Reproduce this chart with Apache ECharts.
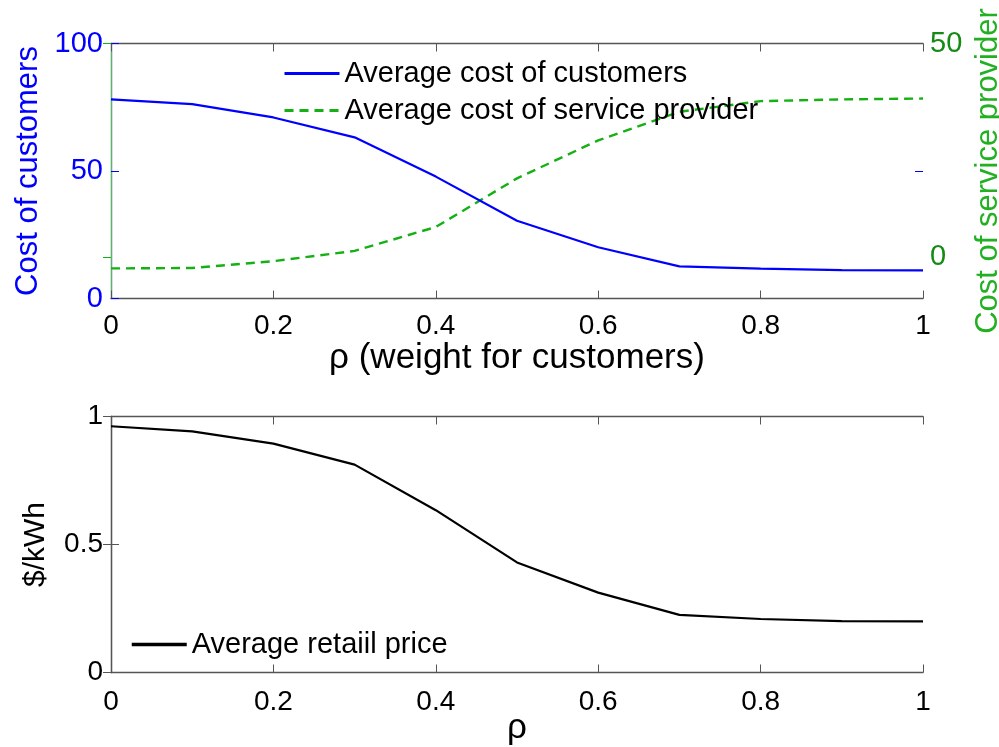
<!DOCTYPE html>
<html>
<head>
<meta charset="utf-8">
<script src="https://cdn.jsdelivr.net/npm/echarts@6/dist/echarts.min.js"></script>
<style>
  html, body { margin: 0; padding: 0; background: #fff; }
  #chart { width: 999px; height: 747px; }
</style>
</head>
<body>
<div id="chart"></div>
<script>
// weight for customers (rho)
const rho = [0, 0.1, 0.2, 0.3, 0.4, 0.5, 0.6, 0.7, 0.8, 0.9, 1.0];
// average cost of customers (left axis, top panel)
const customerCost = [78.1, 76.2, 71.0, 63.2, 47.8, 30.5, 20.1, 12.6, 11.7, 11.1, 11.0];
// average cost of service provider (right axis, top panel)
const providerCost = [-2.7, -2.6, -1.0, 1.4, 7.0, 18.4, 27.3, 34.0, 36.5, 36.9, 37.1];
// average retail price in $/kWh (bottom panel)
const retailPrice = [0.962, 0.942, 0.894, 0.812, 0.634, 0.430, 0.312, 0.225, 0.209, 0.201, 0.200];

const xTicks = [0, 0.2, 0.4, 0.6, 0.8, 1];
const customerTicks = [0, 50, 100];
const providerTicks = [0, 50];
const priceTicks = [0, 0.5, 1];

const FONT = "'Liberation Sans', Arial, Helvetica, sans-serif";
const BOX = '#555555';
const BLUE = '#0000ff';
const GREEN = '#14b014';
const GREEN_DARK = '#158a15';

const pairs = (xs, ys) => xs.map((x, i) => [x, ys[i]]);
const fmt = v => String(+v.toFixed(2));

function xAxisBottom(gridIndex, name, nameGap, nameSize, labelMargin) {
  return {
    type: 'value', gridIndex, position: 'bottom', min: 0, max: 1,
    axisLine: { show: true, onZero: false, lineStyle: { color: BOX, width: 1.3 } },
    axisTick: { show: true, inside: true, length: 8, customValues: xTicks, lineStyle: { color: BOX } },
    axisLabel: { show: true, customValues: xTicks, formatter: fmt, margin: labelMargin,
      color: '#000', fontSize: 28, fontFamily: FONT },
    splitLine: { show: false },
    name, nameLocation: 'middle', nameGap, nameMoveOverlap: false,
    nameTextStyle: { color: '#000', fontSize: nameSize, fontFamily: FONT }
  };
}
function xAxisTop(gridIndex) {
  return {
    type: 'value', gridIndex, position: 'top', min: 0, max: 1,
    axisLine: { show: true, onZero: false, lineStyle: { color: BOX, width: 1.3 } },
    axisTick: { show: true, inside: true, length: 8, customValues: xTicks, lineStyle: { color: BOX } },
    axisLabel: { show: false },
    splitLine: { show: false }
  };
}

// legend swatches show only the line, no marker
const hiddenMarker = { color: 'rgba(0,0,0,0)', borderWidth: 0, opacity: 0 };

const option = {
  animation: false,
  backgroundColor: '#fff',
  grid: [
    { left: 111, right: 76, top: 43.5, height: 255, containLabel: false, outerBoundsMode: 'none' },
    { left: 111, right: 76, top: 416.5, height: 256, containLabel: false, outerBoundsMode: 'none' }
  ],
  legend: [
    {
      data: ['Average cost of customers', 'Average cost of service provider'],
      orient: 'vertical', left: 283, top: 59, padding: 0,
      itemWidth: 55, itemHeight: 29, itemGap: 8,
      itemStyle: hiddenMarker,
      lineStyle: { width: 3 },
      textStyle: { color: '#000', fontSize: 29, fontFamily: FONT, lineHeight: 29 },
      selectedMode: false
    },
    {
      data: ['Average retaiil price'],
      orient: 'vertical', left: 130, top: 630, padding: 0,
      itemWidth: 55, itemHeight: 29,
      itemStyle: hiddenMarker,
      lineStyle: { width: 3.5 },
      textStyle: { color: '#000', fontSize: 29, fontFamily: FONT, lineHeight: 29 },
      selectedMode: false
    }
  ],
  xAxis: [
    xAxisBottom(0, 'ρ (weight for customers)', 42, 35, 14),
    xAxisTop(0),
    xAxisBottom(1, 'ρ', 38, 35, 16),
    xAxisTop(1)
  ],
  yAxis: [
    {
      type: 'value', gridIndex: 0, position: 'left', min: 0, max: 100,
      axisLine: { show: true, lineStyle: { color: '#6f6fff', width: 1.3 } },
      axisTick: { show: true, inside: true, length: 8, customValues: customerTicks, lineStyle: { color: BLUE } },
      axisLabel: { customValues: customerTicks, margin: 8, color: BLUE, fontSize: 29, fontFamily: FONT },
      splitLine: { show: false },
      name: 'Cost of customers', nameLocation: 'middle', nameGap: 67, nameRotate: 90,
      nameTextStyle: { color: BLUE, fontSize: 31, fontFamily: FONT }
    },
    {
      type: 'value', gridIndex: 0, position: 'right', min: -9.75, max: 50,
      axisLine: { show: true, lineStyle: { color: '#5cb85c', width: 1.3 } },
      axisTick: { show: true, inside: true, length: 8, customValues: providerTicks, lineStyle: { color: GREEN } },
      axisLabel: { customValues: providerTicks, margin: 7, color: GREEN_DARK, fontSize: 29, fontFamily: FONT },
      splitLine: { show: false },
      name: 'Cost of service provider', nameLocation: 'middle', nameGap: 46, nameRotate: 90,
      nameTextStyle: { color: '#22b022', fontSize: 31, fontFamily: FONT }
    },
    {
      // mirrored customer-axis tick on the right edge
      type: 'value', gridIndex: 0, position: 'right', min: 0, max: 100,
      axisLine: { show: false },
      axisTick: { show: true, inside: true, length: 8, customValues: [50], lineStyle: { color: BLUE } },
      axisLabel: { show: false },
      splitLine: { show: false }
    },
    {
      type: 'value', gridIndex: 1, position: 'left', min: 0, max: 1,
      axisLine: { show: true, lineStyle: { color: BOX, width: 1.3 } },
      axisTick: { show: true, inside: true, length: 8, customValues: priceTicks, lineStyle: { color: BOX } },
      axisLabel: { customValues: priceTicks, formatter: fmt, margin: 8, color: '#000', fontSize: 28, fontFamily: FONT },
      splitLine: { show: false },
      name: '$/kWh', nameLocation: 'middle', nameGap: 60, nameRotate: 90,
      nameTextStyle: { color: '#000', fontSize: 30, fontFamily: FONT }
    },
    {
      type: 'value', gridIndex: 1, position: 'right', min: 0, max: 1,
      axisLine: { show: true, lineStyle: { color: BOX, width: 1.3 } },
      axisTick: { show: true, inside: true, length: 8, customValues: priceTicks, lineStyle: { color: BOX } },
      axisLabel: { show: false },
      splitLine: { show: false }
    }
  ],
  series: [
    {
      name: 'Average cost of customers', type: 'line', xAxisIndex: 0, yAxisIndex: 0,
      data: pairs(rho, customerCost), symbol: 'none', smooth: false,
      lineStyle: { color: BLUE, width: 2.2 }, itemStyle: { color: BLUE }, z: 3
    },
    {
      name: 'Average cost of service provider', type: 'line', xAxisIndex: 0, yAxisIndex: 1,
      data: pairs(rho, providerCost), symbol: 'none', smooth: false,
      lineStyle: { color: GREEN, width: 2.4, type: [9, 6] }, itemStyle: { color: GREEN }, z: 2
    },
    {
      name: 'Average retaiil price', type: 'line', xAxisIndex: 2, yAxisIndex: 3,
      data: pairs(rho, retailPrice), symbol: 'none', smooth: false,
      lineStyle: { color: '#000', width: 2.2 }, itemStyle: { color: '#000' }
    }
  ]
};

const chart = echarts.init(document.getElementById('chart'), null, { renderer: 'canvas' });
chart.setOption(option);
</script>
</body>
</html>
